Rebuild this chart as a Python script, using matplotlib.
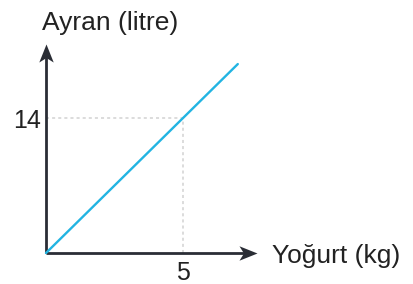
import matplotlib
matplotlib.use("Agg")
import matplotlib.pyplot as plt
from matplotlib.path import Path

# data
x_vals = [0, 7]
y_vals = [0, 19.6]
point_x = 5
point_y = 14
x_label = "Yoğurt (kg)"
y_label = "Ayran (litre)"
x_tick_label = "5"
y_tick_label = "14"

W, H = 414, 284
ox, oy = 46, 31          # origin in pixels (from bottom-left)
sx, sy = 27.4, 9.64      # pixels per unit

fig = plt.figure(figsize=(W / 100, H / 100), dpi=100)
ax = fig.add_axes([0, 0, 1, 1])
ax.set_xlim(-ox / sx, (W - ox) / sx)
ax.set_ylim(-oy / sy, (H - oy) / sy)
ax.axis("off")

plt.rcParams["font.family"] = ["Liberation Sans", "DejaVu Sans"]
axis_col = "#2a2d35"
grid_col = "#d2d2d2"
line_col = "#22b4e2"

# guide lines
ax.plot([0, point_x], [point_y, point_y], color=grid_col, lw=1.1, ls=(0, (2, 2)), zorder=1)
ax.plot([point_x, point_x], [0, point_y], color=grid_col, lw=1.1, ls=(0, (2, 2)), zorder=1)

# axes lines with notched arrowheads
x_end = (257 - ox) / sx
y_end = (H - 44 - oy) / sy
head_px = 9.0
ax.plot([0, x_end - head_px / sx], [0, 0], color=axis_col, lw=2.0, solid_capstyle="butt", zorder=2)
ax.plot([0, 0], [0, y_end - head_px / sy], color=axis_col, lw=2.0, solid_capstyle="butt", zorder=2)
right = Path([(1, 0), (-1, 0.8), (-0.5, 0), (-1, -0.8), (1, 0)],
             [Path.MOVETO, Path.LINETO, Path.LINETO, Path.LINETO, Path.CLOSEPOLY])
up = Path([(0, 1), (0.8, -1), (0, -0.5), (-0.8, -1), (0, 1)],
          [Path.MOVETO, Path.LINETO, Path.LINETO, Path.LINETO, Path.CLOSEPOLY])
ax.plot([x_end - head_px / sx], [0], marker=right, ms=13, color=axis_col, mec=axis_col, mew=0, zorder=3)
ax.plot([0], [y_end - head_px / sy], marker=up, ms=13, color=axis_col, mec=axis_col, mew=0, zorder=3)

# data line
ax.plot(x_vals, y_vals, color=line_col, lw=1.7, solid_capstyle="round", zorder=4)

# texts
fs = 19
ax.text((42 - ox) / sx, (H - 30 - oy) / sy, y_label, fontsize=fs, color="#222222", ha="left", va="baseline")
ax.text((272 - ox) / sx, (H - 263 - oy) / sy, x_label, fontsize=fs, color="#222222", ha="left", va="baseline")
ax.text((41 - ox) / sx, point_y, y_tick_label, fontsize=18, color="#222222", ha="right", va="center_baseline")
ax.text(point_x, (H - 261 - oy) / sy, x_tick_label, fontsize=18, color="#222222", ha="center", va="top")

fig.savefig("out.png", dpi=100)
